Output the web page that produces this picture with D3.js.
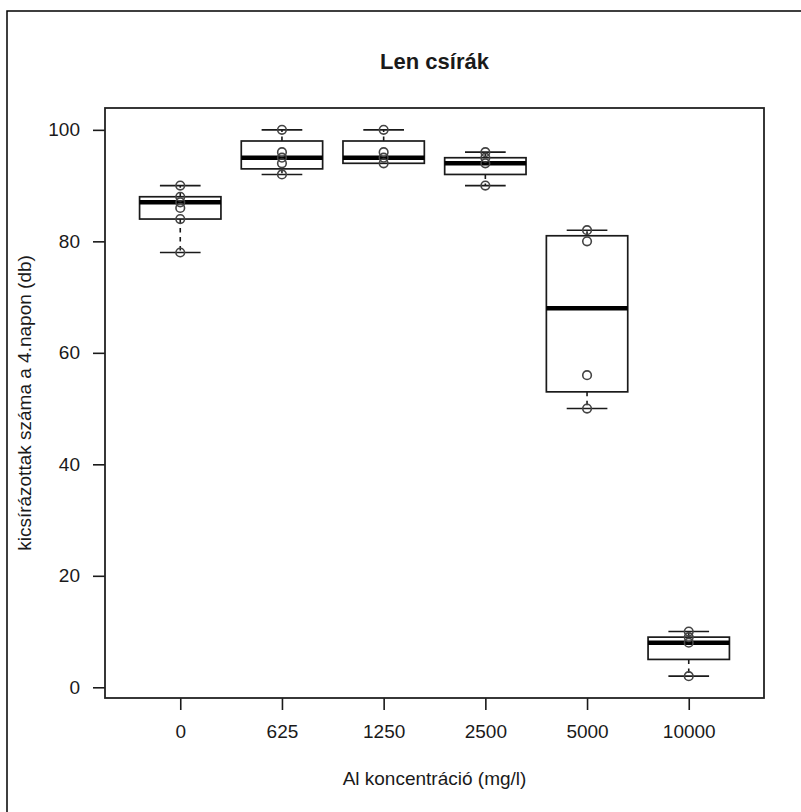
<!DOCTYPE html>
<html>
<head>
<meta charset="utf-8">
<script src="https://cdn.jsdelivr.net/npm/d3@7/dist/d3.min.js"></script>
<style>
  html, body { margin: 0; padding: 0; background: #fff; }
  svg { display: block; font-family: "Liberation Sans", Arial, sans-serif; }
</style>
</head>
<body>
<svg id="chart" width="801" height="812"></svg>
<script>
// ---- Data ----
const categories = ["0", "625", "1250", "2500", "5000", "10000"];
const whiskerLow  = [78, 92, 94, 90, 50, 2];
const q1          = [84, 93, 94, 92, 53, 5];
const medians     = [87, 95, 95, 94, 68, 8];
const q3          = [88, 98, 98, 95, 81, 9];
const whiskerHigh = [90, 100, 100, 96, 82, 10];
const points = [
  [78, 84, 86, 87, 88, 90],
  [92, 94, 95, 96, 100],
  [94, 95, 96, 100],
  [90, 94, 95, 96],
  [50, 56, 80, 82],
  [2, 8, 9, 10]
];
const yTicks = [0, 20, 40, 60, 80, 100];
const titleText = "Len csírák";
const xLabel = "Al koncentráció (mg/l)";
const yLabel = "kicsírázottak száma a 4.napon (db)";

(function () {
// ---- Layout ----
const pL = 105, pR = 764, pT = 108, pB = 698;
const svg = d3.select("#chart");
const ink = "#1a1a1a";

const x = d3.scalePoint().domain(categories).range([pL, pR]).padding(0.74);
const y = d3.scaleLinear().domain([-1.92, 103.92]).range([pB, pT]);
const step = x.step();
const boxW = step * 0.8;
const capW = boxW * 0.5;

// outer figure frame
svg.append("path")
  .attr("d", `M7,900 L7,11 L900,11`)
  .attr("fill", "none").attr("stroke", "#000").attr("stroke-width", 1.5);

// title
svg.append("text")
  .attr("x", (pL + pR) / 2).attr("y", 69)
  .attr("text-anchor", "middle")
  .attr("font-size", 22).attr("font-weight", "bold").attr("fill", ink)
  .text(titleText);

// y axis
const yAxis = svg.append("g")
  .attr("transform", `translate(${pL},0)`)
  .call(d3.axisLeft(y).tickValues(yTicks).tickSize(12).tickPadding(13));
yAxis.select(".domain").remove();
yAxis.selectAll("line").attr("stroke", ink).attr("stroke-width", 1.6);
yAxis.selectAll("text").attr("font-size", 19).attr("fill", ink)
  .attr("font-family", "Liberation Sans, Arial, sans-serif");

// x axis
const xAxis = svg.append("g")
  .attr("transform", `translate(0,${pB})`)
  .call(d3.axisBottom(x).tickSize(12).tickPadding(15));
xAxis.select(".domain").remove();
xAxis.selectAll("line").attr("stroke", ink).attr("stroke-width", 1.6);
xAxis.selectAll("text").attr("font-size", 19).attr("fill", ink)
  .attr("font-family", "Liberation Sans, Arial, sans-serif");

// axis titles
svg.append("text")
  .attr("x", (pL + pR) / 2).attr("y", 785)
  .attr("text-anchor", "middle").attr("font-size", 19).attr("fill", ink)
  .text(xLabel);
svg.append("text")
  .attr("transform", `translate(31,${(pT + pB) / 2}) rotate(-90)`)
  .attr("text-anchor", "middle").attr("font-size", 19).attr("fill", ink)
  .text(yLabel);

// boxes
const groups = svg.append("g").selectAll("g")
  .data(categories.map((c, i) => ({
    c, lo: whiskerLow[i], q1: q1[i], med: medians[i], q3: q3[i], hi: whiskerHigh[i], pts: points[i]
  })))
  .join("g");

// whiskers (dashed)
groups.append("line")
  .attr("x1", d => x(d.c)).attr("x2", d => x(d.c))
  .attr("y1", d => y(d.q3)).attr("y2", d => y(d.hi))
  .attr("stroke", ink).attr("stroke-width", 1.6).attr("stroke-dasharray", "4.5,4.5");
groups.append("line")
  .attr("x1", d => x(d.c)).attr("x2", d => x(d.c))
  .attr("y1", d => y(d.q1)).attr("y2", d => y(d.lo))
  .attr("stroke", ink).attr("stroke-width", 1.6).attr("stroke-dasharray", "4.5,4.5");
// caps
groups.append("line")
  .attr("x1", d => x(d.c) - capW / 2).attr("x2", d => x(d.c) + capW / 2)
  .attr("y1", d => y(d.hi)).attr("y2", d => y(d.hi))
  .attr("stroke", ink).attr("stroke-width", 1.6);
groups.append("line")
  .attr("x1", d => x(d.c) - capW / 2).attr("x2", d => x(d.c) + capW / 2)
  .attr("y1", d => y(d.lo)).attr("y2", d => y(d.lo))
  .attr("stroke", ink).attr("stroke-width", 1.6);
// box
groups.append("rect")
  .attr("x", d => x(d.c) - boxW / 2).attr("width", boxW)
  .attr("y", d => y(d.q3)).attr("height", d => y(d.q1) - y(d.q3))
  .attr("fill", "#fff").attr("stroke", ink).attr("stroke-width", 1.7);
// median
groups.append("line")
  .attr("x1", d => x(d.c) - boxW / 2).attr("x2", d => x(d.c) + boxW / 2)
  .attr("y1", d => y(d.med)).attr("y2", d => y(d.med))
  .attr("stroke", "#000").attr("stroke-width", 4.5);
// points
groups.selectAll("circle")
  .data(d => d.pts.map(v => ({ c: d.c, v })))
  .join("circle")
  .attr("cx", d => x(d.c)).attr("cy", d => y(d.v)).attr("r", 4.3)
  .attr("fill", "none").attr("stroke", "#444").attr("stroke-width", 1.6);

// plot frame
svg.append("rect")
  .attr("x", pL).attr("y", pT)
  .attr("width", pR - pL).attr("height", pB - pT)
  .attr("fill", "none").attr("stroke", "#222").attr("stroke-width", 1.8);
})();
</script>
</body>
</html>
